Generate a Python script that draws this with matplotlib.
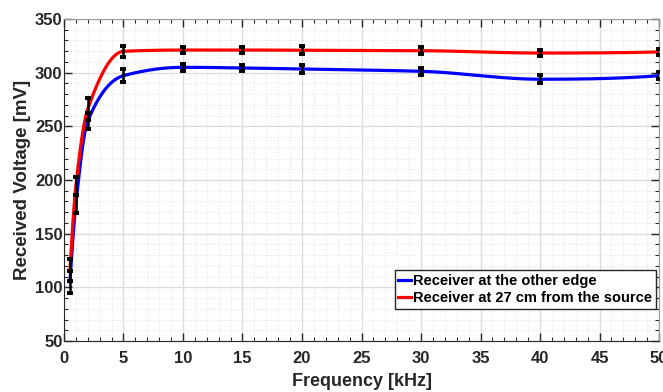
import numpy as np
import matplotlib
matplotlib.use("Agg")
import matplotlib.pyplot as plt
from matplotlib.ticker import MultipleLocator

freq = [0.5, 1, 2, 5, 10, 15, 20, 30, 40, 50]
edge_mv = [105.1, 177.7, 255.0, 297.2, 305.0, 304.4, 303.4, 301.3, 293.9, 297.2]
edge_err = [10, 8, 7, 6, 3, 3, 3.5, 3.5, 3.5, 3.5]
near_mv = [116.3, 194.5, 266.2, 319.9, 321.1, 321.1, 320.9, 320.5, 318.3, 319.3]
near_err = [10, 8, 10, 5, 3, 3, 3.5, 3, 3, 3]
labels = ["Receiver at the other edge", "Receiver at 27 cm from the source"]


def pchip(x, y, xn):
    x = np.asarray(x, float); y = np.asarray(y, float)
    h = np.diff(x); d = np.diff(y) / h
    n = len(x); m = np.zeros(n)
    for k in range(1, n - 1):
        if d[k - 1] * d[k] > 0:
            w1 = 2 * h[k] + h[k - 1]; w2 = h[k] + 2 * h[k - 1]
            m[k] = (w1 + w2) / (w1 / d[k - 1] + w2 / d[k])
    def endslope(h0, h1, d0, d1):
        s = ((2 * h0 + h1) * d0 - h0 * d1) / (h0 + h1)
        if np.sign(s) != np.sign(d0):
            s = 0
        elif np.sign(d0) != np.sign(d1) and abs(s) > abs(3 * d0):
            s = 3 * d0
        return s
    m[0] = endslope(h[0], h[1], d[0], d[1])
    m[-1] = endslope(h[-1], h[-2], d[-1], d[-2])
    idx = np.clip(np.searchsorted(x, xn) - 1, 0, n - 2)
    t = (xn - x[idx]) / h[idx]
    hh = h[idx]
    h00 = 2 * t**3 - 3 * t**2 + 1; h10 = t**3 - 2 * t**2 + t
    h01 = -2 * t**3 + 3 * t**2; h11 = t**3 - t**2
    return h00 * y[idx] + h10 * hh * m[idx] + h01 * y[idx + 1] + h11 * hh * m[idx + 1]


plt.rcParams['font.family'] = ['Liberation Sans', 'DejaVu Sans']
fig = plt.figure(figsize=(6.63, 3.92), dpi=100)
ax = fig.add_axes([0.0965, 0.130, 0.8975, 0.8215])

xs = np.linspace(min(freq), max(freq), 600)
ax.plot(xs, pchip(freq, edge_mv, xs), color='#0000ff', lw=2.3, label=labels[0], zorder=3)
ax.plot(xs, pchip(freq, near_mv, xs), color='#ff0000', lw=2.3, label=labels[1], zorder=3)
for vals, errs in [(edge_mv, edge_err), (near_mv, near_err)]:
    ax.errorbar(freq, vals, yerr=errs, fmt='none', ecolor='black', elinewidth=1.8,
                capsize=2.5, capthick=2.8, zorder=4)

ax.set_xlim(0, 50)
ax.set_ylim(50, 350)
ax.xaxis.set_major_locator(MultipleLocator(5))
ax.xaxis.set_minor_locator(MultipleLocator(1))
ax.yaxis.set_major_locator(MultipleLocator(50))
ax.yaxis.set_minor_locator(MultipleLocator(10))
ax.grid(True, which='major', color='#dcdcdc', lw=1.0)
ax.grid(True, which='minor', color='#e6e6e6', lw=0.8, ls=':')
ax.set_axisbelow(True)
ax.tick_params(which='both', direction='in', top=True, right=True, colors='#262626',
               labelsize=12)
ax.tick_params(which='major', length=6, width=1)
ax.tick_params(which='minor', length=3, width=0.8)
ax.tick_params(axis='x', which='major', pad=7.5)
ax.tick_params(axis='y', which='major', pad=1)
for lab in ax.get_xticklabels() + ax.get_yticklabels():
    lab.set_fontweight('bold')
for s in ax.spines.values():
    s.set_color('#262626')
ax.spines['top'].set_color('#999999')
ax.spines['right'].set_color('#999999')

ax.set_xlabel('Frequency [kHz]', fontsize=13, fontweight='bold', color='#262626', labelpad=5)
ax.set_ylabel('Received Voltage [mV]', fontsize=13.5, fontweight='bold', color='#262626', labelpad=3)

leg = ax.legend(loc='lower right', bbox_to_anchor=(1.0, 0.09),
                prop={'weight': 'bold', 'size': 10.5}, handlelength=0.9, handletextpad=0.15,
                borderpad=0.25, labelspacing=0.25, fancybox=False, framealpha=1,
                edgecolor='#262626', borderaxespad=0.2)
leg.get_frame().set_linewidth(1.0)

fig.savefig('out.png', dpi=100)
